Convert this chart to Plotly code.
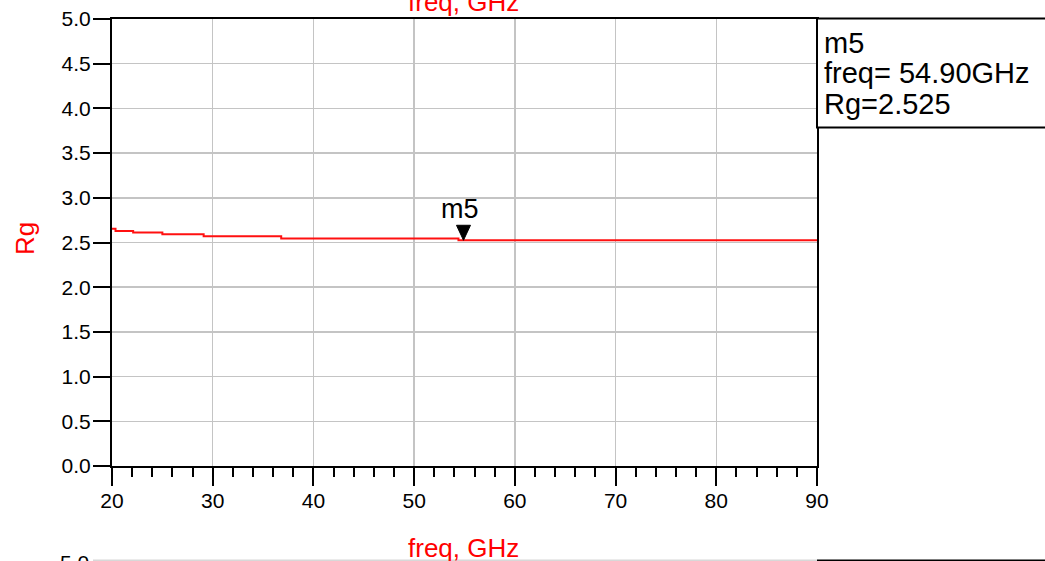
import plotly.graph_objects as go

# ---- data ----
freq_ghz = [20.0, 20.35, 22.1, 25.0, 29.1, 36.8, 54.4, 90.0]
rg_vals = [2.655, 2.628, 2.611, 2.592, 2.570, 2.544, 2.525, 2.525]
x_ticks = [20, 30, 40, 50, 60, 70, 80, 90]
y_ticks = [0.0, 0.5, 1.0, 1.5, 2.0, 2.5, 3.0, 3.5, 4.0, 4.5, 5.0]
marker_name = "m5"
marker_freq = 54.90
marker_rg = 2.525

W, H = 1045, 561
FONT = "Arial, Liberation Sans, sans-serif"


def px(x):
    return x / W


def py(y):
    return (H - y) / H


fig = go.Figure()
fig.add_trace(go.Scatter(
    x=freq_ghz, y=rg_vals, mode="lines", line_shape="hv",
    line=dict(color="#ff1010", width=2), showlegend=False, hoverinfo="skip"))

fig.update_layout(
    width=W, height=H, margin=dict(l=0, r=0, t=0, b=0, autoexpand=False),
    paper_bgcolor="white", plot_bgcolor="white",
    font=dict(family=FONT, color="black"),
    showlegend=False,
)
fig.update_xaxes(
    domain=[px(112), px(817)], range=[20, 90], tickvals=x_ticks,
    ticktext=[str(v) for v in x_ticks], automargin=False,
    showline=True, linecolor="black", linewidth=2, mirror=True,
    ticks="outside", ticklen=18, tickwidth=2, tickcolor="black",
    ticklabelstandoff=-3,
    tickfont=dict(size=21, color="black", family=FONT),
    showgrid=True, gridcolor="#c4c4c4", gridwidth=1.5, zeroline=False,
    minor=dict(dtick=2, ticks="outside", ticklen=9, tickwidth=2,
               tickcolor="black", showgrid=False),
)
fig.update_yaxes(
    domain=[py(466), py(19)], range=[0, 5], tickvals=y_ticks,
    ticktext=[f"{v:.1f}" for v in y_ticks], automargin=False,
    showline=True, linecolor="black", linewidth=2, mirror=True,
    ticks="outside", ticklen=17, tickwidth=2, tickcolor="black",
    ticklabelstandoff=-2,
    tickfont=dict(size=21, color="black", family=FONT),
    showgrid=True, gridcolor="#c4c4c4", gridwidth=1.5, zeroline=False,
)

shapes = []
# marker triangle (tip on the trace)
shapes.append(dict(
    type="path", xref="x", yref="y", xsizemode="pixel", ysizemode="pixel",
    xanchor=marker_freq, yanchor=marker_rg,
    path="M -7,15 L 7,15 L 0,0 Z", fillcolor="black",
    line=dict(color="black", width=1), layer="above"))
# marker readout box
shapes.append(dict(
    type="rect", xref="paper", yref="paper",
    x0=px(817), x1=px(1060), y0=py(127.5), y1=py(18.5),
    fillcolor="white", line=dict(color="black", width=2), layer="above"))
# top edge of the next chart below
shapes.append(dict(type="line", xref="paper", yref="paper",
                   x0=px(93), x1=px(817), y0=py(560.5), y1=py(560.5),
                   line=dict(color="#d8d8d8", width=2)))
shapes.append(dict(type="line", xref="paper", yref="paper",
                   x0=px(817), x1=px(1060), y0=py(560.5), y1=py(560.5),
                   line=dict(color="black", width=2)))
fig.update_layout(shapes=shapes)

ann = []
ann.append(dict(text=marker_name, x=marker_freq, y=marker_rg, xref="x", yref="y",
                showarrow=False, yshift=31, xshift=-3,
                font=dict(size=27, color="black", family=FONT)))
box_lines = [marker_name, f"freq= {marker_freq:.2f}GHz", f"Rg={marker_rg:.3f}"]
for i, t in enumerate(box_lines):
    ann.append(dict(text=t, x=px(822), y=py(43 + 30.5 * i), xref="paper", yref="paper",
                    xanchor="left", yanchor="middle", showarrow=False,
                    font=dict(size=29, color="black", family=FONT)))
ann.append(dict(text="Rg", x=px(25), y=py(239), xref="paper", yref="paper",
                textangle=-90, showarrow=False, xanchor="center", yanchor="middle",
                font=dict(size=26, color="red", family=FONT)))
ann.append(dict(text="freq, GHz", x=px(463), y=py(2), xref="paper", yref="paper",
                showarrow=False, xanchor="center", yanchor="middle",
                font=dict(size=26, color="red", family=FONT)))
ann.append(dict(text="freq, GHz", x=px(463), y=py(548), xref="paper", yref="paper",
                showarrow=False, xanchor="center", yanchor="middle",
                font=dict(size=26, color="red", family=FONT)))
ann.append(dict(text="5.0", x=px(91), y=py(562), xref="paper", yref="paper",
                showarrow=False, xanchor="right", yanchor="middle",
                font=dict(size=21, color="black", family=FONT)))
fig.update_layout(annotations=ann)

fig.write_html(
    "out.html",
    config={"displayModeBar": False, "staticPlot": True},
    post_script="document.body.style.margin='0px';"
                "document.documentElement.style.overflow='hidden';",
)
